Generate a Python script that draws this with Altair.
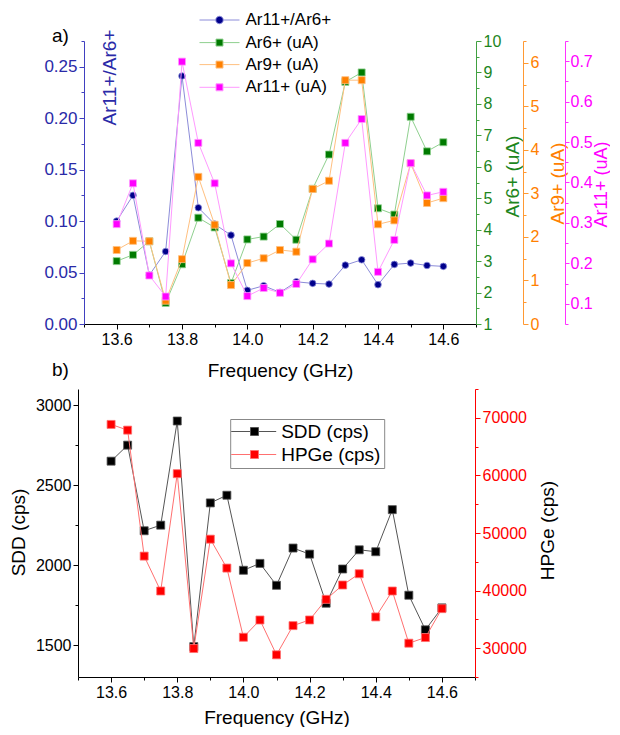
import altair as alt
import pandas as pd

# ---------------- data ----------------
freq = [13.6, 13.65, 13.7, 13.75, 13.8, 13.85, 13.9, 13.95, 14.0, 14.05, 14.1,
        14.15, 14.2, 14.25, 14.3, 14.35, 14.4, 14.45, 14.5, 14.55, 14.6]
ratio = [0.100, 0.125, 0.0475, 0.0705, 0.241, 0.113, 0.097, 0.0863, 0.0327, 0.0372, 0.0307,
         0.041, 0.0395, 0.0388, 0.0572, 0.0624, 0.0382, 0.0579, 0.0592, 0.0569, 0.056]
ar6 = [3.00, 3.20, 3.63, 1.67, 2.90, 4.38, 4.07, 2.30, 3.69, 3.78, 4.18,
       3.68, 5.30, 6.39, 8.70, 9.00, 4.68, 4.48, 7.59, 6.49, 6.78]
ar9 = [1.70, 1.91, 1.90, 0.535, 1.49, 3.38, 2.28, 0.894, 1.40, 1.51, 1.70,
       1.66, 3.10, 3.29, 5.60, 5.60, 2.29, 2.38, 3.69, 2.78, 2.89]
ar11 = [0.297, 0.398, 0.170, 0.118, 0.699, 0.498, 0.398, 0.200, 0.119, 0.139, 0.127,
        0.149, 0.210, 0.249, 0.498, 0.557, 0.179, 0.258, 0.448, 0.368, 0.377]
sdd = [2649, 2749, 2214, 2249, 2900, 1490, 2388, 2436, 1967, 2010, 1873,
       2106, 2068, 1761, 1975, 2095, 2083, 2346, 1811, 1595, 1732]
hpge = [68850, 67860, 45990, 39930, 60300, 29940, 48930, 43910, 31900, 34900, 28850,
        33920, 34900, 38480, 40970, 42930, 35430, 39930, 30870, 31850, 36870]

x_labels = [13.6, 13.8, 14.0, 14.2, 14.4, 14.6]
x_minor = [13.5, 13.7, 13.9, 14.1, 14.3, 14.5, 14.7]
ratio_ticks = [0.0, 0.05, 0.10, 0.15, 0.20, 0.25]
ratio_minor = [0.025, 0.075, 0.125, 0.175, 0.225, 0.275]
ar6_ticks = [1, 2, 3, 4, 5, 6, 7, 8, 9, 10]
ar6_minor = [1.5, 2.5, 3.5, 4.5, 5.5, 6.5, 7.5, 8.5, 9.5]
ar9_ticks = [0, 1, 2, 3, 4, 5, 6]
ar9_minor = [0.5, 1.5, 2.5, 3.5, 4.5, 5.5, 6.5]
ar11_ticks = [0.1, 0.2, 0.3, 0.4, 0.5, 0.6, 0.7]
ar11_minor = [0.05, 0.15, 0.25, 0.35, 0.45, 0.55, 0.65, 0.75]
sdd_ticks = [1500, 2000, 2500, 3000]
sdd_minor = [1750, 2250, 2750]
hpge_ticks = [30000, 40000, 50000, 60000, 70000]
hpge_minor = [25000, 35000, 45000, 55000, 65000, 75000]

FONT = "Liberation Sans"

# colours
BLUE_M, BLUE_L, BLUE_AX, BLUE_T = "#00008b", "#8c8cd9", "#4040c0", "#2a2aa8"
GREEN_M, GREEN_L, GREEN_AX, GREEN_T = "#007a00", "#8fd08f", "#40a040", "#1d861d"
ORANGE_M, ORANGE_L, ORANGE_AX, ORANGE_T = "#ff8000", "#ffc080", "#ff9933", "#ff8000"
MAG_M, MAG_L, MAG_AX, MAG_T = "#ff00ff", "#ff99ff", "#ff33ff", "#ff00ff"
SDD_M, SDD_L = "#000000", "#555555"
HP_M, HP_L = "#ff0000", "#ff7070"

# legend symbols (line + marker)
SQ_PATH_A = "M-4,0H-0.7M0.7,0H4M-0.7,-0.7H0.7V0.7H-0.7Z"
CI_PATH_A = "M-4,0H-0.75M0.75,0H4M-0.75,0A0.75,0.75 0 1,0 0.75,0A0.75,0.75 0 1,0 -0.75,0Z"
SQ_PATH_B = "M-2.3,0H1.56M3.16,0H6.7M1.56,-0.8H3.16V0.8H1.56Z"

PANEL_B_TOP = 283 + 65  # offset of panel b's plot from panel a's plot (legend coordinates)


def x_enc(kind, rng=None, title_pad=14):
    if rng is not None:
        sc = alt.Scale(domain=[13.5, 14.7], nice=False, zero=False, range=rng)
    else:
        sc = alt.Scale(domain=[13.5, 14.7], nice=False, zero=False)
    if kind == "major":
        ax = alt.Axis(orient="bottom", values=x_labels, format=".1f", title="Frequency (GHz)",
                      titlePadding=title_pad, domainColor="black", tickColor="black")
    elif kind == "minor":
        ax = alt.Axis(orient="bottom", values=x_minor, labels=False, title=None, domain=False,
                      tickSize=3, tickColor="black")
    else:
        ax = None
    return alt.X("f:Q", scale=sc, axis=ax)


def minor_axis(orient, offset, values, color):
    return alt.Axis(orient=orient, offset=offset, values=values, labels=False, title=None,
                    domain=False, tickSize=3, tickColor=color)


def series(values, name, shape, size, y_scale, y_axis, y_minor, legend,
           domain, dark_range, light_range, light, x):
    df = pd.DataFrame({"f": freq, "v": values, "s": [name] * len(freq)})
    line = alt.Chart(df).mark_line(color=light, strokeWidth=1).encode(
        x=x, y=alt.Y("v:Q", scale=y_scale, axis=y_axis))
    pts = alt.Chart(df).mark_point(shape=shape, filled=True, size=size, opacity=1,
                                   strokeWidth=0.8).encode(
        x=x, y=alt.Y("v:Q", scale=y_scale, axis=y_minor),
        fill=alt.Fill("s:N", scale=alt.Scale(domain=domain, range=dark_range), legend=legend),
        stroke=alt.Stroke("s:N", scale=alt.Scale(domain=domain, range=light_range), legend=legend),
    )
    return alt.layer(line, pts).resolve_axis(y="independent")


def leg_a(y, path):
    return alt.Legend(orient="none", legendX=133, legendY=y, title=None, symbolType=path,
                      symbolSize=100, symbolStrokeWidth=1, labelFontSize=17, labelOffset=17.5,
                      padding=0, labelFont=FONT, labelColor="black")


RA = [6, 398]

s_ratio = series(ratio, "Ar11+/Ar6+", "circle", 44,
                 alt.Scale(domain=[0, 0.275], nice=False, zero=False),
                 alt.Axis(orient="left", values=ratio_ticks, format=".2f", title="Ar11+/Ar6+",
                          offset=-6, domainColor=BLUE_AX, tickColor=BLUE_AX, labelColor=BLUE_T,
                          titleColor=BLUE_T, labelFontSize=17, titleX=25.5, titleY=36,
                          titleAngle=270, titleAlign="center", titleBaseline="middle"),
                 minor_axis("left", -6, ratio_minor, BLUE_AX),
                 leg_a(-29.5, CI_PATH_A), ["Ar11+/Ar6+"], [BLUE_M], [BLUE_L], BLUE_L,
                 x_enc("major", RA))
s_ar6 = series(ar6, "Ar6+ (uA)", "square", 49,
               alt.Scale(domain=[1, 10], nice=False, zero=False),
               alt.Axis(orient="right", values=ar6_ticks, title="Ar6+ (uA)", offset=0,
                        domainColor=GREEN_AX, tickColor=GREEN_AX, labelColor=GREEN_T,
                        titleColor=GREEN_T, titleX=36.5, titleY=135, titleAngle=270,
                        titleAlign="center", titleBaseline="middle"),
               minor_axis("right", 0, ar6_minor, GREEN_AX),
               leg_a(-6.9, SQ_PATH_A), ["Ar6+ (uA)"], [GREEN_M], [GREEN_L], GREEN_L,
               x_enc("minor", RA))
s_ar9 = series(ar9, "Ar9+ (uA)", "square", 49,
               alt.Scale(domain=[0, 6.5], nice=False, zero=False),
               alt.Axis(orient="right", values=ar9_ticks, title="Ar9+ (uA)", offset=47,
                        domainColor=ORANGE_AX, tickColor=ORANGE_AX, labelColor=ORANGE_T,
                        titleColor=ORANGE_T, titleX=34.5, titleY=142, titleAngle=270,
                        titleAlign="center", titleBaseline="middle"),
               minor_axis("right", 47, ar9_minor, ORANGE_AX),
               leg_a(15.1, SQ_PATH_A), ["Ar9+ (uA)"], [ORANGE_M], [ORANGE_L], ORANGE_L,
               x_enc("none", RA))
s_ar11 = series(ar11, "Ar11+ (uA)", "square", 49,
                alt.Scale(domain=[0.05, 0.75], nice=False, zero=False),
                alt.Axis(orient="right", values=ar11_ticks, format=".1f", title="Ar11+ (uA)",
                         offset=89, domainColor=MAG_AX, tickColor=MAG_AX, labelColor=MAG_T,
                         titleColor=MAG_T, labelFontSize=16, tickSize=4, labelPadding=1,
                         titleFontSize=18, titleX=36, titleY=143, titleAngle=270,
                         titleAlign="center", titleBaseline="middle"),
                minor_axis("right", 89, ar11_minor, MAG_AX),
                leg_a(37.8, SQ_PATH_A), ["Ar11+ (uA)"], [MAG_M], [MAG_L], MAG_L,
                x_enc("none", RA))

panel_a = alt.layer(s_ratio, s_ar6, s_ar9, s_ar11).resolve_scale(
    y="independent", fill="independent", stroke="independent"
).resolve_axis(x="independent").properties(
    width=398, height=283,
    title=alt.TitleParams("a)", anchor="start", frame="group", offset=0, baseline="bottom",
                          dx=-26, dy=53.5, fontSize=19, font=FONT, fontWeight="normal",
                          color="black"),
)

leg_b = alt.Legend(orient="none", legendX=152.2, legendY=30 + PANEL_B_TOP, title=None,
                   symbolType=SQ_PATH_B, symbolSize=100, symbolStrokeWidth=1,
                   labelFontSize=19, labelOffset=29, padding=3, strokeColor="#888888",
                   rowPadding=3, labelFont=FONT, labelColor="black")
names_b = ["SDD (cps)", "HPGe (cps)"]
s_sdd = series(sdd, "SDD (cps)", "square", 64,
               alt.Scale(domain=[1300, 3100], nice=False, zero=False),
               alt.Axis(orient="left", values=sdd_ticks, format="d", title="SDD (cps)",
                        domainColor="black", tickColor="black", labelColor="black",
                        titleColor="black", titleX=-60, titleY=143, titleAngle=270,
                        titleAlign="center", titleBaseline="middle"),
               minor_axis("left", 0, sdd_minor, "black"),
               leg_b, names_b, [SDD_M, HP_M], [SDD_L, HP_L], SDD_L,
               x_enc("major", title_pad=8))
s_hp = series(hpge, "HPGe (cps)", "square", 64,
              alt.Scale(domain=[25000, 75000], nice=False, zero=False),
              alt.Axis(orient="right", values=hpge_ticks, format="d", title="HPGe (cps)",
                       domainColor="#ff0000", tickColor="#ff0000", labelColor="#ff0000",
                       titleColor="black", titleX=72.5, titleY=141, titleAngle=270,
                       titleAlign="center", titleBaseline="middle"),
              minor_axis("right", 0, hpge_minor, "#ff0000"),
              leg_b, names_b, [SDD_M, HP_M], [SDD_L, HP_L], HP_L, x_enc("minor"))

panel_b = alt.layer(s_sdd, s_hp).resolve_scale(y="independent").resolve_axis(
    x="independent").properties(
    width=397, height=288,
    title=alt.TitleParams("b)", anchor="start", frame="group", offset=0, baseline="bottom",
                          dx=-26, dy=10, fontSize=19, font=FONT, fontWeight="normal",
                          color="black"),
)

chart = alt.vconcat(panel_a, panel_b, spacing=65, bounds="flush").properties(
    padding={"left": 1, "top": 3, "right": 0, "bottom": 0}
).configure_view(stroke=None).configure_axis(
    grid=False, labelFont=FONT, titleFont=FONT, labelFontSize=16, titleFontSize=19,
    titleFontWeight="normal", tickSize=5, labelPadding=2, titleColor="black"
).configure_legend(labelFont=FONT, labelFontSize=19)

chart.save("out.html", embed_options={"renderer": "svg", "actions": False})
